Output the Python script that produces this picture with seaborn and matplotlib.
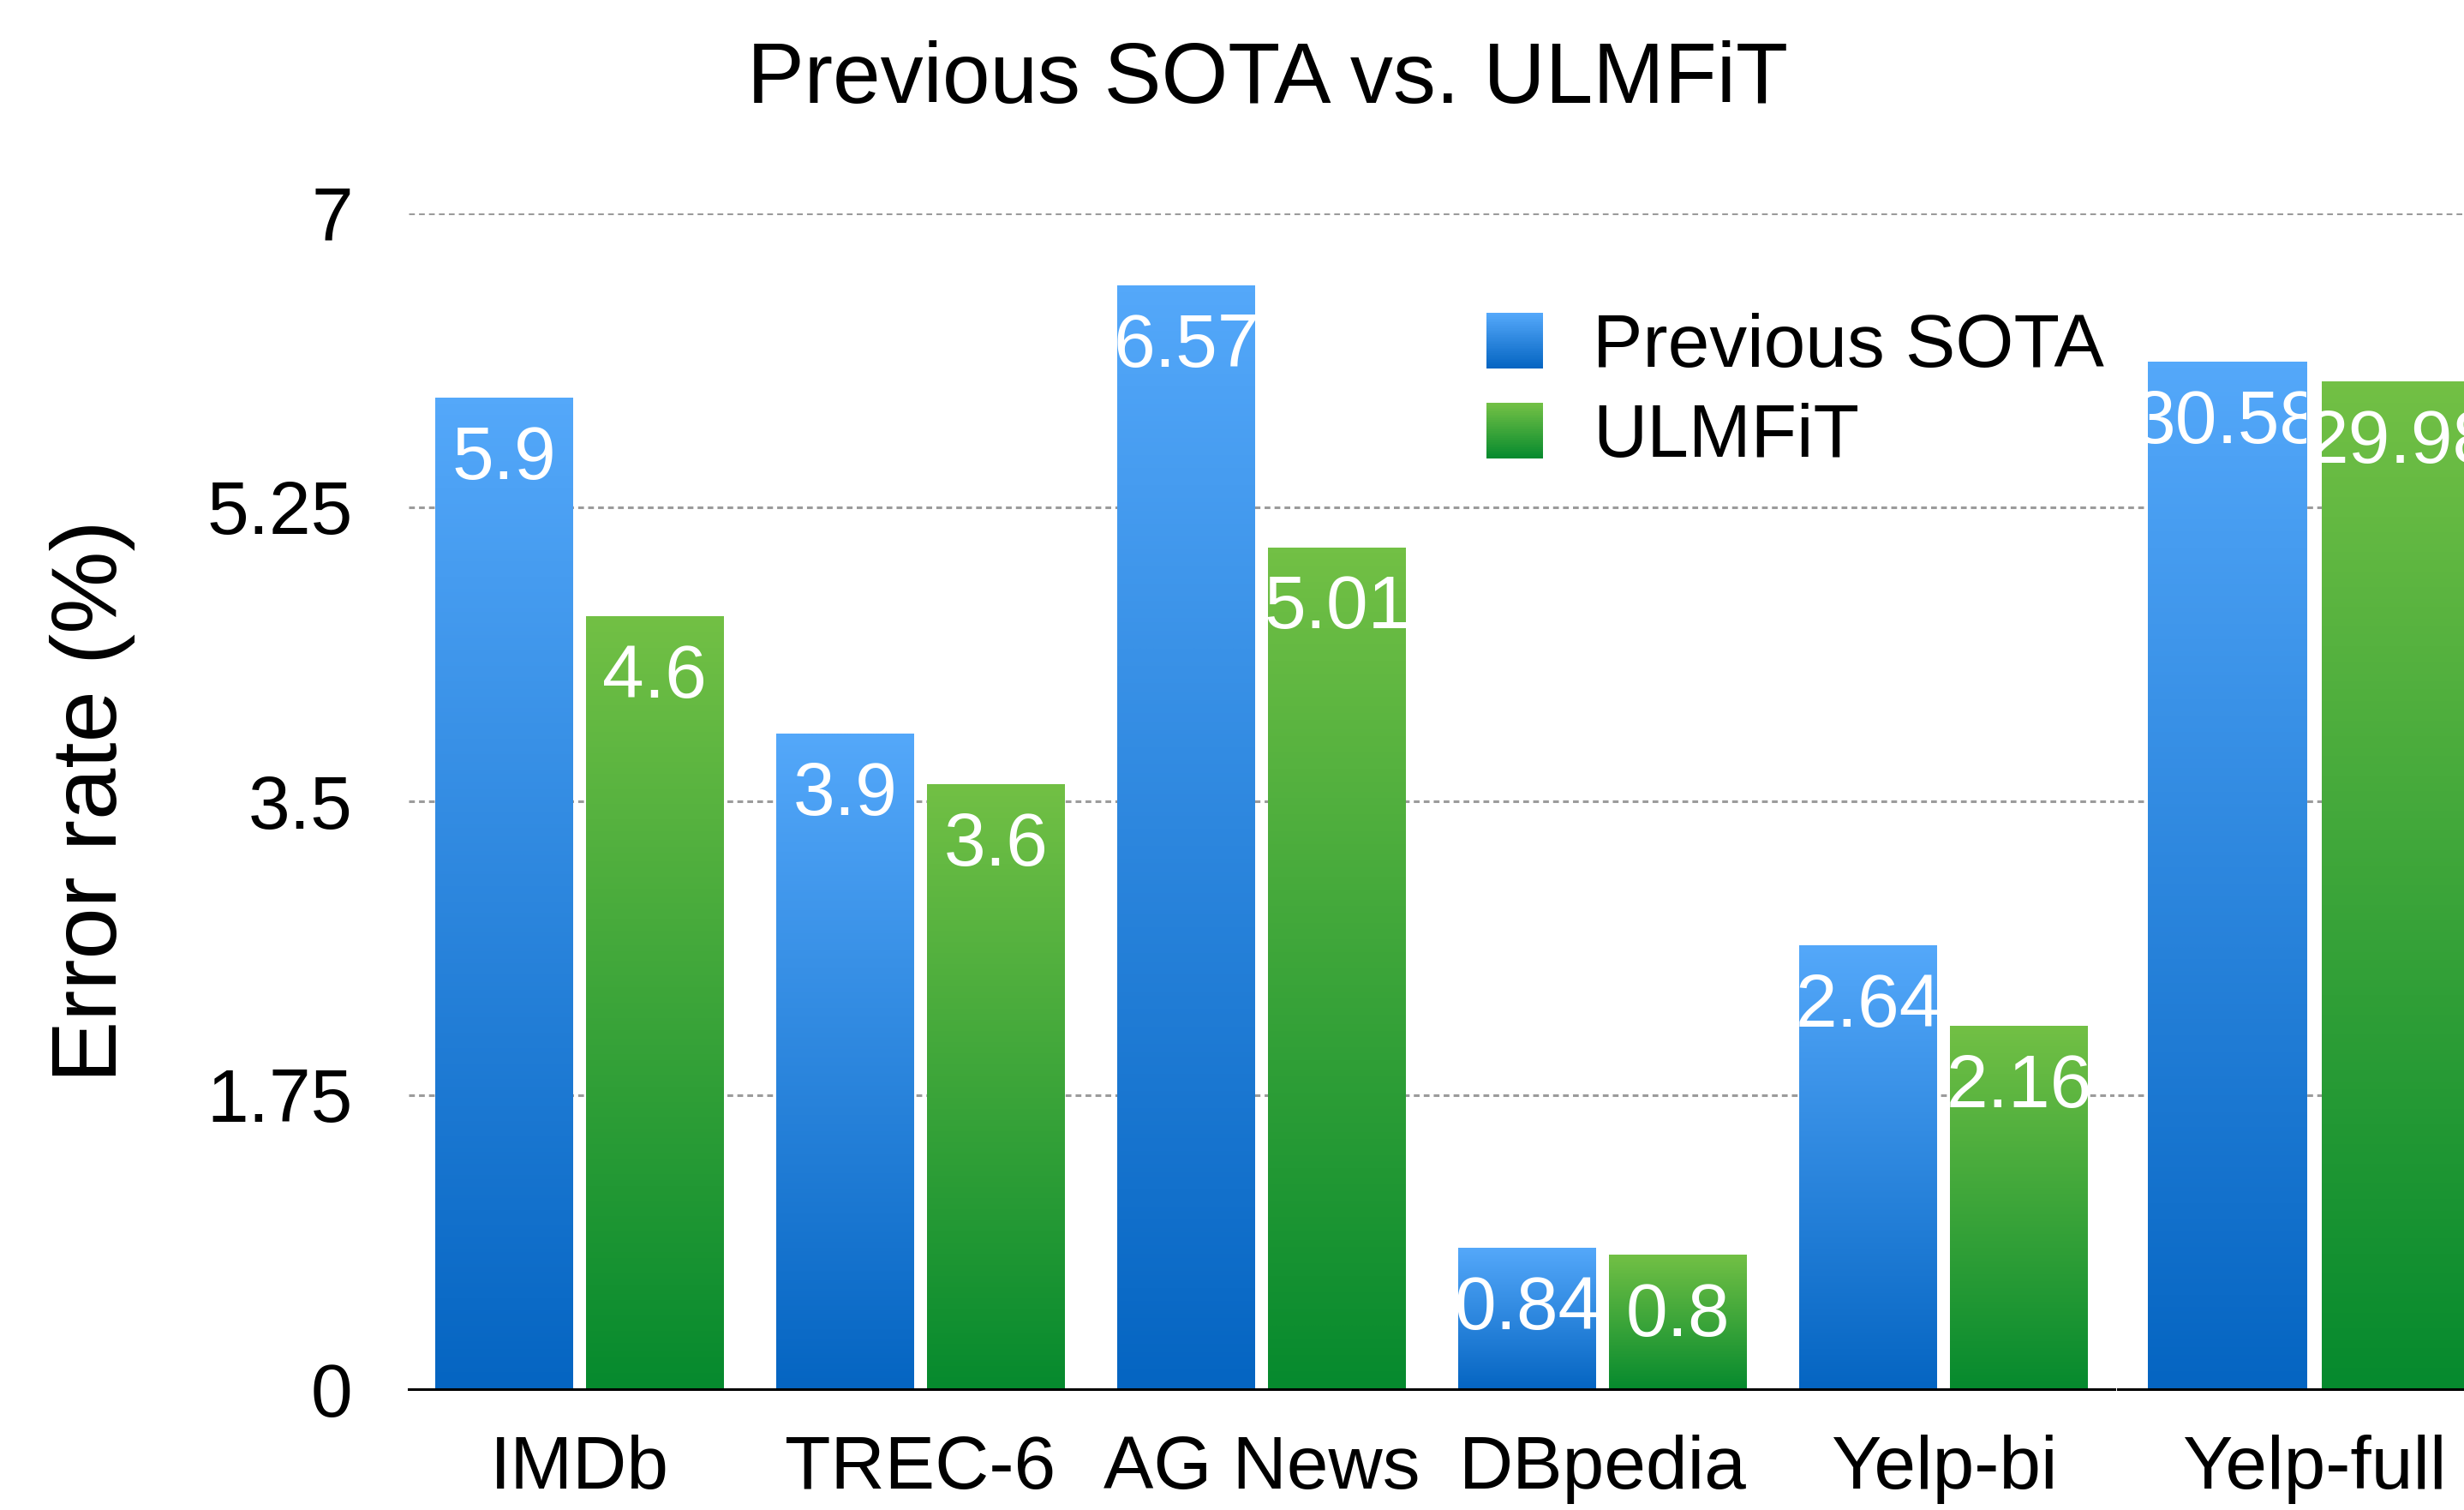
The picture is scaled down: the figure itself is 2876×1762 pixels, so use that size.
import numpy as np
import pandas as pd
import matplotlib.pyplot as plt
import seaborn as sns
from matplotlib.colors import LinearSegmentedColormap
from matplotlib.legend_handler import HandlerBase
from matplotlib.patches import Rectangle

sns.set_style("white")
plt.rcParams["font.family"] = ["Liberation Sans", "DejaVu Sans"]
plt.rcParams["text.color"] = "black"
plt.rcParams["axes.labelcolor"] = "black"
plt.rcParams["xtick.color"] = "black"
plt.rcParams["ytick.color"] = "black"

# Data
datasets = ["IMDb", "TREC-6", "AG News", "DBpedia", "Yelp-bi"]
prev_sota = [5.9, 3.9, 6.57, 0.84, 2.64]
ulmfit = [4.6, 3.6, 5.01, 0.8, 2.16]

yelp_full = ["Yelp-full"]
yelp_prev_sota = [30.58]
yelp_ulmfit = [29.98]

models = ["Previous SOTA", "ULMFiT"]
y_ticks = [0, 1.75, 3.5, 5.25, 7]
y_tick_labels = ["0", "1.75", "3.5", "5.25", "7"]

# gradient colours (bottom, top)
grad = {
    "Previous SOTA": ("#0565c2", "#54a8fa"),
    "ULMFiT": ("#068a2e", "#72c045"),
}

df = pd.DataFrame({
    "dataset": datasets * 2,
    "error": prev_sota + ulmfit,
    "model": [models[0]] * len(datasets) + [models[1]] * len(datasets),
})
df_full = pd.DataFrame({
    "dataset": yelp_full * 2,
    "error": yelp_prev_sota + yelp_ulmfit,
    "model": models,
})

W, H = 2876, 1762
fig = plt.figure(figsize=(W / 100, H / 100), dpi=100)
bottom = 1 - 1621 / H
height = 1372 / H
ax1 = fig.add_axes([477 / W, bottom, 1991 / W, height])
ax2 = fig.add_axes([2472 / W, bottom, 458 / W, height])

FS = 63


def gradient_bars(ax, data, order):
    sns.barplot(data=data, x="dataset", y="error", hue="model", hue_order=models,
                order=order, width=0.884, gap=0.086, palette=["#3d8fe8", "#3fa53a"],
                legend=False, ax=ax)
    arr = np.linspace(0, 1, 256).reshape(-1, 1)
    n = len(order)
    for i, patch in enumerate(list(ax.patches)):
        model = models[i // n]
        cmap = LinearSegmentedColormap.from_list(model, grad[model])
        x0 = patch.get_x()
        x1 = x0 + patch.get_width()
        h = patch.get_height()
        ax.imshow(arr, extent=[x0, x1, 0, h], origin="lower", aspect="auto",
                  cmap=cmap, zorder=2, interpolation="bilinear")
        patch.set_facecolor("none")
        patch.set_edgecolor("none")
        txt = ax.annotate(f"{h:g}", (x0 + patch.get_width() / 2, h),
                          xytext=(0, -68), textcoords="offset points",
                          ha="center", va="baseline", color="white",
                          fontsize=FS, zorder=3)
        txt.set_clip_path(patch)


gradient_bars(ax1, df, datasets)
gradient_bars(ax2, df_full, yelp_full)

for ax, top, n in [(ax1, 7, len(datasets)), (ax2, 35, len(yelp_full))]:
    ax.set_xlim(-0.5, n - 0.5)
    ax.set_ylim(0, top)
    ax.set_yticks(np.array(y_ticks) * top / 7)
    ax.grid(axis="y", color="#9b9b9b", linestyle=(0, (2.2, 1.6)), linewidth=2.2)
    ax.set_axisbelow(True)
    for s in ["left", "top", "right"]:
        ax.spines[s].set_visible(False)
    ax.spines["bottom"].set_color("black")
    ax.spines["bottom"].set_linewidth(2.2)
    ax.tick_params(axis="both", length=0, labelsize=FS)
    ax.tick_params(axis="x", pad=38)
    ax.set_xlabel("")
    ax.set_ylabel("")

ax1.set_yticklabels(y_tick_labels)
ax1.tick_params(axis="y", pad=47)
ax2.set_yticklabels([])

ax1.set_ylabel("Error rate (%)", fontsize=78)
ax1.yaxis.set_label_coords(-0.16, 0.5)

fig.text(1479 / W, 1 - 120 / H, "Previous SOTA vs. ULMFiT", fontsize=72,
         ha="center", va="baseline")


# Legend with gradient swatches
class GradientHandler(HandlerBase):
    def create_artists(self, legend, orig_handle, xdescent, ydescent, width,
                       height, fontsize, trans):
        lo, hi = grad[orig_handle.get_label()]
        cmap = LinearSegmentedColormap.from_list("g", [lo, hi])
        n = 40
        arts = []
        for k in range(n):
            r = Rectangle((-xdescent, -ydescent + height * k / n), width,
                          height / n + 0.3, facecolor=cmap(k / (n - 1)),
                          edgecolor="none", transform=trans)
            arts.append(r)
        return arts


handles = [Rectangle((0, 0), 1, 1, label=m) for m in models]
fig.legend(handles=handles, labels=models, handler_map={Rectangle: GradientHandler()},
           loc="upper left", bbox_to_anchor=(1735 / W, 1 - 365 / H),
           frameon=False, fontsize=FS, handlelength=0.76, handleheight=0.76,
           handletextpad=0.66, labelspacing=0.28, borderpad=0, borderaxespad=0)

fig.savefig("out.png", dpi=100)
